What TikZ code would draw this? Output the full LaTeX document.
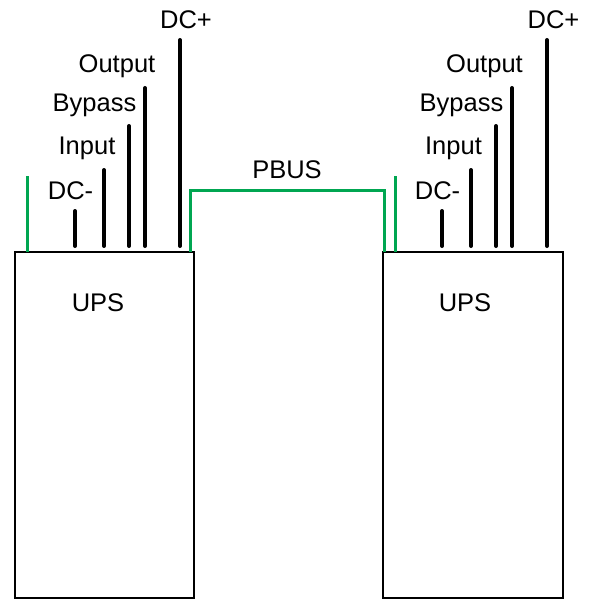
\documentclass[tikz,border=0pt]{standalone}
\usepackage{fontspec}
\setmainfont{Liberation Sans}
\definecolor{pgreen}{RGB}{0,166,81}
\begin{document}
\begin{tikzpicture}[x=1pt,y=-1pt,
  ups/.style={draw=black,line width=2pt,rectangle,minimum width=#1,minimum height=346pt,inner sep=0pt},
  pin/.style={line width=4pt,line cap=round,black},
  gpin/.style={line width=3pt,pgreen},
  lbl/.style={anchor=base,inner sep=0pt,font=\fontsize{25.5}{30}\selectfont}]
\useasboundingbox (0,0) rectangle (589,599);
\fill[white] (0,0) rectangle (589,599);
% boxes
\node[ups=179pt] (upsL) at (104.5,425) {};
\node[ups=180pt] (upsR) at (472.5,425) {};
\node[lbl] (tL) at (98,311) {UPS};
\node[lbl] (tR) at (465,311) {UPS};
% left pins
\coordinate (gL1) at (27.5,176);
\coordinate (gL0) at (27.5,252);
\draw[gpin] (gL0) -- (gL1);
\foreach \n/\x/\t in {dcmL/75/211, inL/104/170, byL/129/126, outL/145/88, dcpL/180/40}{
  \coordinate (\n t) at (\x,\t);
  \coordinate (\n b) at (\x,246);
  \draw[pin] (\n b) -- (\n t);
}
% right pins
\coordinate (gR1) at (395,176);
\coordinate (gR0) at (395,252);
\draw[gpin] (gR0) -- (gR1);
\foreach \n/\x/\t in {dcmR/442/211, inR/471/170, byR/496/126, outR/512/88, dcpR/547/40}{
  \coordinate (\n t) at (\x,\t);
  \coordinate (\n b) at (\x,246);
  \draw[pin] (\n b) -- (\n t);
}
% PBUS
\coordinate (pb0) at (190.5,252);
\coordinate (pb1) at (384.7,252);
\draw[gpin,line join=miter] (pb0) |- (287,190.5) -| (pb1);
\node[lbl] (pbus) at (287,178.5) {PBUS};
% left labels
\node[lbl] (lDCp) at (186,29) {DC+};
\node[lbl] (lOut) at (117,73) {Output};
\node[lbl] (lByp) at (94.5,111) {Bypass};
\node[lbl] (lIn) at (87,154) {Input};
\node[lbl] (lDCm) at (70.5,199) {DC-};
% right labels
\node[lbl] (rDCp) at (553.5,29) {DC+};
\node[lbl] (rOut) at (484.5,73) {Output};
\node[lbl] (rByp) at (461.5,111) {Bypass};
\node[lbl] (rIn) at (453.5,154) {Input};
\node[lbl] (rDCm) at (437.5,199) {DC-};
\end{tikzpicture}
\end{document}
